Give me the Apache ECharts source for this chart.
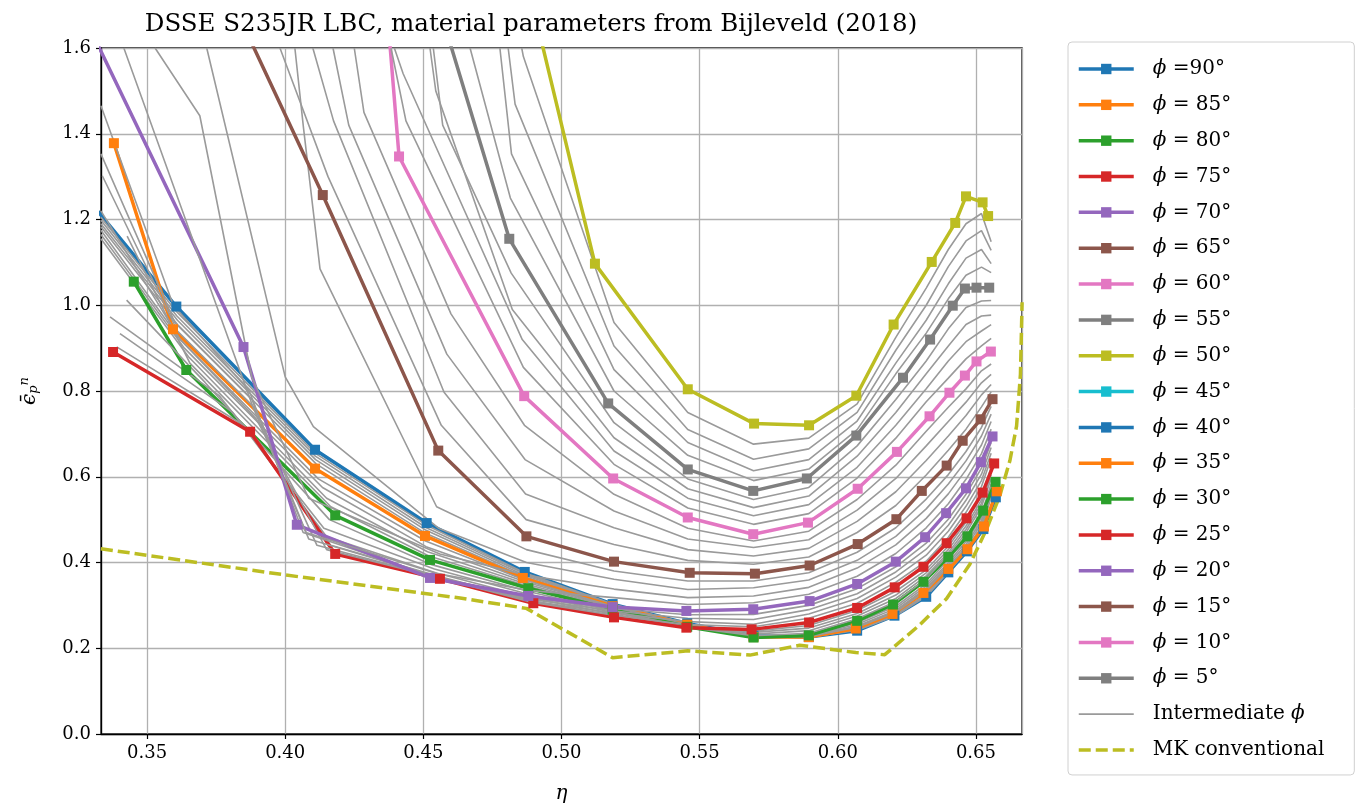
<!DOCTYPE html>
<html>
<head>
<meta charset="utf-8">
<script src="https://cdn.jsdelivr.net/npm/echarts@6/dist/echarts.min.js"></script>
<style>
  html, body { margin: 0; padding: 0; background: #fff; }
  #main { width: 1356px; height: 811px; }
</style>
</head>
<body>
<div id="main"></div>
<script>
// marked curves, [eta, eps] (first point may sit outside the frame)
const phi90 = [[0.330,1.236],[0.3606,0.997],[0.4108,0.663],[0.4512,0.492],[0.4867,0.378],[0.5185,0.303],[0.5455,0.258],[0.5695,0.229],[0.5895,0.226],[0.607,0.241],[0.6205,0.276],[0.632,0.320],[0.640,0.377],[0.6467,0.426],[0.6527,0.478],[0.6572,0.552]]
const phi85 = [[0.338,1.378],[0.3594,0.944],[0.4108,0.619],[0.4506,0.462],[0.486,0.364],[0.5185,0.298],[0.5455,0.255],[0.5695,0.226],[0.5895,0.226],[0.6065,0.246],[0.6198,0.280],[0.631,0.329],[0.640,0.385],[0.6469,0.431],[0.6529,0.484],[0.6575,0.566]]
const phi80 = [[0.3452,1.055],[0.3642,0.849],[0.4181,0.510],[0.4524,0.406],[0.488,0.340],[0.5185,0.290],[0.5455,0.250],[0.5695,0.225],[0.5895,0.230],[0.607,0.264],[0.620,0.302],[0.631,0.355],[0.640,0.413],[0.6469,0.461],[0.6526,0.521],[0.6571,0.588]]
const phi75 = [[0.3377,0.891],[0.3873,0.705],[0.4181,0.420],[0.456,0.362],[0.4898,0.305],[0.519,0.272],[0.5452,0.248],[0.5688,0.244],[0.5896,0.260],[0.607,0.294],[0.6206,0.342],[0.631,0.390],[0.6394,0.445],[0.6466,0.503],[0.6524,0.563],[0.6566,0.631]]
const phi70 = [[0.329,1.65],[0.3849,0.9025],[0.4042,0.488],[0.4524,0.364],[0.488,0.322],[0.5185,0.296],[0.5452,0.287],[0.5694,0.291],[0.5898,0.310],[0.607,0.350],[0.621,0.402],[0.6316,0.459],[0.6392,0.515],[0.6464,0.573],[0.6518,0.634],[0.656,0.694]]
const phi65 = [[0.380,1.72],[0.4136,1.257],[0.4554,0.661],[0.4873,0.461],[0.519,0.402],[0.5464,0.376],[0.570,0.374],[0.5898,0.393],[0.6072,0.443],[0.6212,0.501],[0.6304,0.567],[0.6394,0.626],[0.6452,0.684],[0.6517,0.734],[0.656,0.781]]
const phi60 = [[0.4365,1.72],[0.4412,1.347],[0.4865,0.788],[0.5187,0.596],[0.5457,0.505],[0.5694,0.466],[0.5892,0.493],[0.6072,0.572],[0.6214,0.658],[0.6332,0.741],[0.6404,0.796],[0.646,0.836],[0.6502,0.869],[0.6554,0.892]]
const phi55 = [[0.452,1.775],[0.4811,1.155],[0.5169,0.771],[0.5457,0.617],[0.5694,0.567],[0.5888,0.596],[0.6067,0.696],[0.6236,0.831],[0.6334,0.920],[0.6416,0.999],[0.646,1.039],[0.6502,1.041],[0.6548,1.041]]
const phi50 = [[0.487,1.77],[0.5121,1.097],[0.5457,0.804],[0.5697,0.724],[0.5896,0.720],[0.6067,0.789],[0.6202,0.955],[0.634,1.101],[0.6425,1.192],[0.6464,1.254],[0.6524,1.240],[0.6544,1.208]]

const phiNames = ['ϕ =90°', 'ϕ = 85°', 'ϕ = 80°', 'ϕ = 75°', 'ϕ = 70°', 'ϕ = 65°', 'ϕ = 60°', 'ϕ = 55°', 'ϕ = 50°',
  'ϕ = 45°', 'ϕ = 40°', 'ϕ = 35°', 'ϕ = 30°', 'ϕ = 25°', 'ϕ = 20°', 'ϕ = 15°', 'ϕ = 10°', 'ϕ = 5°']
const phiColors = ['#1f77b4', '#ff7f0e', '#2ca02c', '#d62728', '#9467bd', '#8c564b', '#e377c2', '#7f7f7f', '#bcbd22',
  '#17becf', '#1f77b4', '#ff7f0e', '#2ca02c', '#d62728', '#9467bd', '#8c564b', '#e377c2', '#7f7f7f']
// phi 45..5 lie above the frame, nothing of them is visible
const phiVisible = [phi90, phi85, phi80, phi75, phi70, phi65, phi60, phi55, phi50]

// intermediate phi: left part as [eta, eps], right part on a shared eta grid
const etaRight = [0.519, 0.5457, 0.5695, 0.5895, 0.607, 0.621, 0.632, 0.640, 0.6464, 0.652, 0.6555]

const gapAfter90Left = [
  [[0.3333,1.205],[0.3607,0.985],[0.4108,0.655],[0.4512,0.487],[0.4866,0.376]],
  [[0.3333,1.198],[0.3608,0.975],[0.4109,0.648],[0.4511,0.481],[0.4865,0.374]],
  [[0.3333,1.19],[0.361,0.965],[0.411,0.64],[0.451,0.475],[0.4864,0.371]],
  [[0.3333,1.183],[0.361,0.955],[0.4112,0.63],[0.4508,0.468],[0.4862,0.368]]
]
const gapAfter90Right = [
  [0.302, 0.257, 0.228, 0.226, 0.242, 0.276, 0.321, 0.378, 0.426, 0.479, 0.553],
  [0.301, 0.257, 0.228, 0.226, 0.243, 0.277, 0.323, 0.379, 0.427, 0.480, 0.556],
  [0.300, 0.256, 0.227, 0.226, 0.244, 0.278, 0.325, 0.381, 0.429, 0.481, 0.560],
  [0.299, 0.256, 0.227, 0.226, 0.245, 0.279, 0.327, 0.383, 0.430, 0.483, 0.563]
]
const gapAfter85Left = [
  [[0.3333,1.175],[0.362,0.92],[0.412,0.595],[0.4508,0.45],[0.4864,0.36]],
  [[0.3333,1.165],[0.3635,0.9],[0.4135,0.575],[0.451,0.437],[0.4868,0.355]],
  [[0.3333,1.155],[0.365,0.88],[0.415,0.55],[0.4515,0.425],[0.4872,0.35]],
  [[0.3428,1.161],[0.3655,0.865],[0.4165,0.53],[0.452,0.415],[0.4876,0.345]]
]
const gapAfter85Right = [
  [0.297, 0.254, 0.226, 0.227, 0.249, 0.284, 0.335, 0.390, 0.436, 0.491, 0.569],
  [0.295, 0.253, 0.226, 0.228, 0.252, 0.288, 0.340, 0.395, 0.442, 0.498, 0.573],
  [0.294, 0.252, 0.226, 0.228, 0.256, 0.293, 0.345, 0.400, 0.449, 0.505, 0.578],
  [0.292, 0.251, 0.225, 0.229, 0.260, 0.298, 0.350, 0.407, 0.455, 0.513, 0.583]
]
const gapAfter80Left = [
  [[0.3426,1.012],[0.371,0.82],[0.416,0.5],[0.453,0.395],[0.4884,0.332]],
  [[0.3366,0.973],[0.376,0.79],[0.414,0.48],[0.454,0.385],[0.4888,0.325]],
  [[0.3402,0.934],[0.381,0.75],[0.415,0.46],[0.455,0.375],[0.489,0.318]],
  [[0.339,0.903],[0.385,0.72],[0.4165,0.44],[0.4555,0.368],[0.4895,0.31]]
]
const gapAfter80Right = [
  [0.286, 0.249, 0.229, 0.235, 0.269, 0.309, 0.362, 0.418, 0.469, 0.530, 0.596],
  [0.283, 0.249, 0.233, 0.241, 0.275, 0.316, 0.369, 0.423, 0.477, 0.538, 0.605],
  [0.279, 0.248, 0.237, 0.247, 0.281, 0.324, 0.376, 0.430, 0.485, 0.546, 0.613],
  [0.276, 0.248, 0.240, 0.253, 0.288, 0.333, 0.383, 0.438, 0.494, 0.555, 0.622]
]
const gapAfter75Left = [
  [[0.3333,1.22],[0.362,0.92],[0.3895,0.735],[0.415,0.43],[0.4558,0.364],[0.4895,0.307]],
  [[0.3338,1.302],[0.361,0.94],[0.389,0.76],[0.4115,0.44],[0.4555,0.365],[0.4892,0.31]],
  [[0.3333,1.353],[0.36,0.96],[0.388,0.78],[0.4085,0.455],[0.455,0.366],[0.489,0.314]],
  [[0.3333,1.4655],[0.3595,1.0],[0.387,0.8],[0.4065,0.47],[0.4545,0.366],[0.4885,0.318]]
]
const gapAfter75Right = [
  [0.277, 0.255, 0.250, 0.270, 0.305, 0.354, 0.403, 0.459, 0.517, 0.577, 0.643],
  [0.282, 0.262, 0.256, 0.280, 0.316, 0.366, 0.417, 0.473, 0.531, 0.591, 0.655],
  [0.287, 0.270, 0.267, 0.290, 0.327, 0.378, 0.431, 0.487, 0.545, 0.606, 0.668],
  [0.292, 0.278, 0.279, 0.300, 0.339, 0.390, 0.445, 0.501, 0.559, 0.620, 0.680]
]
const gapAfter70Left = [
  [[0.3416,1.6],[0.3885,0.76],[0.4075,0.47],[0.4545,0.375],[0.488,0.335]],
  [[0.3529,1.6],[0.3691,1.442],[0.3879,0.832],[0.4085,0.55],[0.456,0.42],[0.4876,0.37]],
  [[0.3716,1.6],[0.4,0.833],[0.4102,0.717],[0.4555,0.48],[0.4873,0.4]],
  [[0.4035,1.6],[0.4066,1.415],[0.4126,1.085],[0.4548,0.53],[0.4873,0.43]]
]
const gapAfter70Right = [
  [0.318, 0.302, 0.306, 0.326, 0.368, 0.421, 0.481, 0.537, 0.594, 0.654, 0.711],
  [0.338, 0.318, 0.322, 0.342, 0.387, 0.441, 0.503, 0.560, 0.616, 0.674, 0.729],
  [0.361, 0.337, 0.341, 0.359, 0.405, 0.461, 0.525, 0.583, 0.637, 0.695, 0.746],
  [0.380, 0.357, 0.357, 0.376, 0.424, 0.481, 0.548, 0.605, 0.659, 0.715, 0.764]
]
const gapAfter65Left = [
  [[0.3981,1.6],[0.4155,1.3],[0.4565,0.72],[0.4872,0.5]],
  [[0.41,1.6],[0.4175,1.43],[0.4575,0.797],[0.487,0.56]],
  [[0.4173,1.6],[0.423,1.42],[0.4585,0.886],[0.4868,0.64]],
  [[0.425,1.6],[0.4285,1.45],[0.46,0.98],[0.4866,0.72]]
]
const gapAfter65Right = [
  [0.442, 0.405, 0.396, 0.413, 0.470, 0.533, 0.604, 0.662, 0.711, 0.763, 0.798],
  [0.481, 0.430, 0.415, 0.433, 0.496, 0.565, 0.638, 0.695, 0.743, 0.791, 0.815],
  [0.520, 0.455, 0.435, 0.453, 0.522, 0.596, 0.672, 0.729, 0.774, 0.819, 0.839],
  [0.559, 0.480, 0.450, 0.473, 0.547, 0.627, 0.706, 0.762, 0.805, 0.847, 0.863]
]
const gapAfter60Left = [
  [[0.4383,1.6],[0.4437,1.43],[0.4862,0.855]],
  [[0.4395,1.6],[0.4427,1.54],[0.4858,0.92]],
  [[0.4524,1.6],[0.4545,1.5],[0.4822,0.99]],
  [[0.4536,1.6],[0.457,1.42],[0.4818,1.075]]
]
const gapAfter60Right = [
  [0.629, 0.527, 0.489, 0.514, 0.597, 0.690, 0.775, 0.830, 0.875, 0.905, 0.923],
  [0.660, 0.550, 0.509, 0.535, 0.622, 0.720, 0.805, 0.870, 0.915, 0.940, 0.955],
  [0.691, 0.572, 0.528, 0.555, 0.648, 0.750, 0.840, 0.905, 0.955, 0.975, 0.977],
  [0.726, 0.595, 0.547, 0.575, 0.672, 0.780, 0.870, 0.945, 0.995, 1.010, 1.011]
]
const gapAfter55Left = [
  [[0.4669,1.6],[0.4815,1.25]],
  [[0.4777,1.6],[0.4819,1.353]],
  [[0.4807,1.6],[0.4832,1.469]],
  [[0.4856,1.6],[0.4862,1.58]]
]
const gapAfter55Right = [
  [0.800, 0.650, 0.591, 0.618, 0.710, 0.840, 0.935, 1.015, 1.070, 1.089, 1.076],
  [0.850, 0.680, 0.614, 0.640, 0.730, 0.865, 0.965, 1.050, 1.110, 1.130, 1.097],
  [0.905, 0.710, 0.641, 0.665, 0.750, 0.895, 1.000, 1.090, 1.150, 1.174, 1.128],
  [0.960, 0.750, 0.676, 0.690, 0.770, 0.925, 1.040, 1.130, 1.190, 1.214, 1.148]
]

// MK conventional (dashed)
const mkEta = [0.3333, 0.40, 0.4633, 0.4873, 0.5185, 0.5457, 0.5682, 0.5862, 0.6065, 0.617, 0.6292, 0.6394, 0.6478, 0.6538, 0.6587, 0.6623, 0.6647, 0.6661, 0.6667]
const mkEps = [0.432, 0.371, 0.317, 0.293, 0.178, 0.194, 0.184, 0.207, 0.19, 0.185, 0.252, 0.316, 0.396, 0.477, 0.557, 0.638, 0.718, 0.839, 1.007]

const gapsLeft = [gapAfter90Left, gapAfter85Left, gapAfter80Left, gapAfter75Left, gapAfter70Left, gapAfter65Left, gapAfter60Left, gapAfter55Left]
const gapsRight = [gapAfter90Right, gapAfter85Right, gapAfter80Right, gapAfter75Right, gapAfter70Right, gapAfter65Right, gapAfter60Right, gapAfter55Right]

const FONT = 'DejaVu Serif'
const GREY = '#9a9a9a'

function markedSeries (i, data) {
  return {
    type: 'line',
    name: phiNames[i],
    data: data,
    symbol: 'rect',
    symbolSize: 10,
    showSymbol: true,
    clip: true,
    itemStyle: { color: phiColors[i] },
    lineStyle: { color: phiColors[i], width: 3.5 },
    emphasis: { disabled: true }
  }
}

let series = []
for (let i = 0; i < phiNames.length; i++) {
  series.push(markedSeries(i, phiVisible[i] || []))
  if (i < gapsLeft.length) {
    gapsLeft[i].forEach((left, k) => {
      const line = left.concat(etaRight.map((x, j) => [x, gapsRight[i][k][j]]))
      series.push({
        type: 'line',
        name: 'Intermediate ϕ',
        data: line,
        symbol: 'none',
        clip: true,
        itemStyle: { color: GREY },
        lineStyle: { color: GREY, width: 1.6 },
        emphasis: { disabled: true }
      })
    })
  }
}
series.push({
  type: 'line',
  name: 'MK conventional',
  data: mkEta.map((x, j) => [x, mkEps[j]]),
  symbol: 'none',
  clip: true,
  itemStyle: { color: '#bcbd22' },
  lineStyle: { color: '#bcbd22', width: 3.5, type: [12, 5] },
  emphasis: { disabled: true }
})

const chart = echarts.init(document.getElementById('main'))
const option = {
  animation: false,
  title: {
    text: 'DSSE S235JR LBC, material parameters from Bijleveld (2018)',
    left: 526,
    textAlign: 'center',
    top: 7,
    textStyle: { fontFamily: FONT, fontSize: 24.5, fontWeight: 'normal', color: '#000' }
  },
  grid: {
    left: 101, top: 48, width: 921, height: 686,
    show: true, borderColor: '#000', borderWidth: 1.3, backgroundColor: 'transparent'
  },
  legend: {
    orient: 'vertical',
    left: 1068,
    top: 42,
    padding: [17, 30, 15, 9],
    itemWidth: 55,
    itemHeight: 13,
    itemGap: 15.84,
    backgroundColor: '#fff',
    borderColor: '#d0d0d0',
    borderWidth: 1,
    borderRadius: 4,
    lineStyle: { width: 'inherit' },
    data: phiNames.concat([
      { name: 'Intermediate ϕ', itemStyle: { opacity: 0 } },
      { name: 'MK conventional', itemStyle: { opacity: 0 } }
    ]),
    formatter: name => name.replace('ϕ', '{i|ϕ}'),
    textStyle: {
      fontFamily: FONT, fontSize: 20, color: '#000', lineHeight: 20, padding: [0, 0, 0, 14],
      rich: { i: { fontFamily: FONT, fontSize: 20, fontStyle: 'italic', color: '#000' } }
    }
  },
  xAxis: {
    type: 'value',
    min: 1 / 3,
    max: 2 / 3,
    name: 'η',
    nameLocation: 'middle',
    nameGap: 50,
    nameTextStyle: { fontFamily: FONT, fontSize: 20, fontStyle: 'italic', color: '#000' },
    axisLine: { onZero: false, lineStyle: { color: '#000', width: 1.3 } },
    axisTick: { length: 5, lineStyle: { color: '#000', width: 1.2 } },
    axisLabel: {
      showMinLabel: false, showMaxLabel: false, margin: 10,
      fontFamily: FONT, fontSize: 18, color: '#000',
      formatter: v => v.toFixed(2)
    },
    splitLine: { show: true, lineStyle: { color: '#b0b0b0', width: 1.3 } }
  },
  yAxis: {
    type: 'value',
    min: 0,
    max: 1.6,
    interval: 0.2,
    name: '{e|ϵ̄}{s|p}{n|n}',
    nameLocation: 'middle',
    nameGap: 60,
    nameRotate: 90,
    nameTextStyle: {
      color: '#000',
      rich: {
        e: { fontFamily: FONT, fontSize: 20, fontStyle: 'italic', color: '#000' },
        s: { fontFamily: FONT, fontSize: 13, fontStyle: 'italic', color: '#000', padding: [8, 0, 0, 0] },
        n: { fontFamily: FONT, fontSize: 13, fontStyle: 'italic', color: '#000', padding: [0, 0, 10, 0] }
      }
    },
    axisLine: { lineStyle: { color: '#000', width: 1.3 } },
    axisTick: { length: 5, lineStyle: { color: '#000', width: 1.2 } },
    axisLabel: { margin: 10, fontFamily: FONT, fontSize: 18, color: '#000', formatter: v => v.toFixed(1) },
    splitLine: { show: true, lineStyle: { color: '#b0b0b0', width: 1.3 } }
  },
  series: series
}
chart.setOption(option)
</script>
</body>
</html>
